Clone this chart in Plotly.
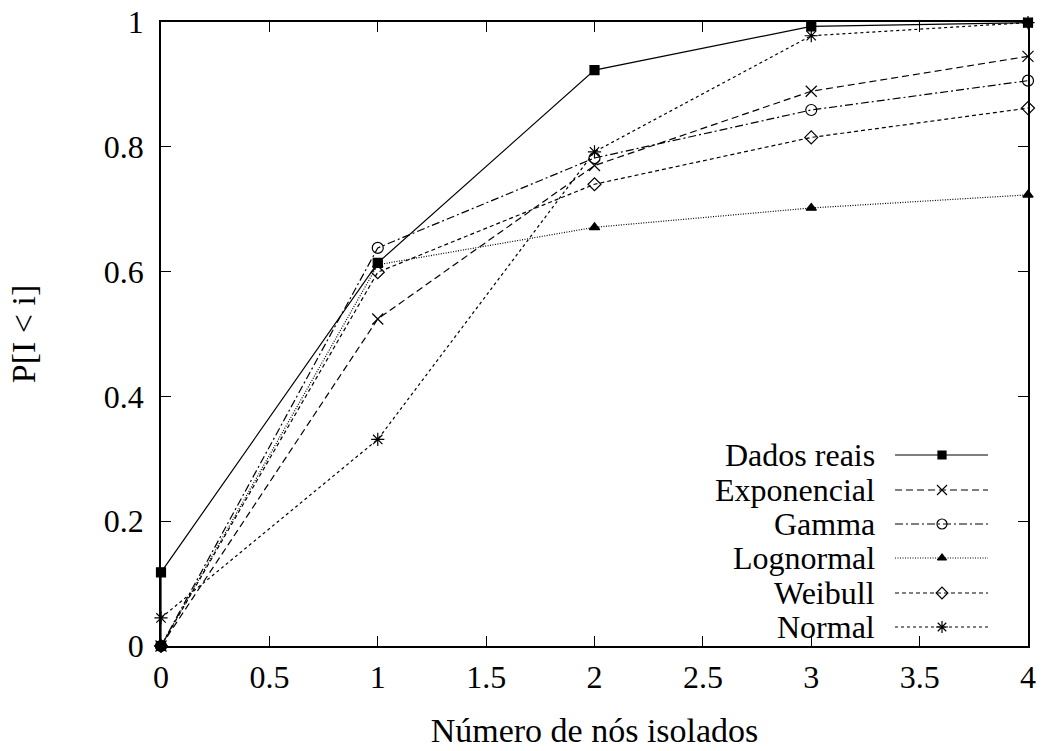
import plotly.graph_objects as go

x_vals = [0, 1, 2, 3, 4]
dados_x = [0, 0, 1, 2, 3, 4]
dados_y = [0.0, 0.118, 0.614, 0.923, 0.993, 0.999]
exponencial = [0.0, 0.524, 0.770, 0.889, 0.945]
gamma = [0.0, 0.638, 0.782, 0.859, 0.906]
lognormal = [0.0, 0.611, 0.671, 0.702, 0.723]
weibull = [0.0, 0.599, 0.740, 0.815, 0.862]
normal = [0.045, 0.331, 0.792, 0.978, 0.999]

names = ["Dados reais", "Exponencial", "Gamma", "Lognormal", "Weibull", "Normal"]

FONT = "Liberation Serif, Times New Roman, serif"

styles = [
    dict(dash="solid", symbol="square", size=9),
    dict(dash="7px,4px", symbol="x-thin-open", size=11),
    dict(dash="8px,3px,2px,3px", symbol="circle-open", size=11),
    dict(dash="1px,1.5px", symbol="triangle-up", size=9),
    dict(dash="4px,3px", symbol="diamond-open", size=10),
    dict(dash="3px,3px", symbol="asterisk-open", size=11),
]

series = [
    (dados_x, dados_y),
    (x_vals, exponencial),
    (x_vals, gamma),
    (x_vals, lognormal),
    (x_vals, weibull),
    (x_vals, normal),
]

fig = go.Figure()
order = [1, 2, 3, 4, 5, 0]  # draw real data last so its squares sit on top
for i in order:
    (xs, ys), name, st = series[i], names[i], styles[i]
    fig.add_trace(go.Scatter(
        x=xs, y=ys, mode="lines+markers", name=name, showlegend=False,
        line=dict(color="black", width=1.2, dash=st["dash"]),
        marker=dict(symbol=st["symbol"], size=st["size"], color="black",
                    line=dict(color="black", width=1.2)),
        cliponaxis=False,
    ))

# custom legend (text on left, sample on right), drawn on an overlay axis in page pixels
W, H = 1047, 751
L, R, T, B = 161, 19, 22, 105
leg_y = [455, 490, 524, 558, 593, 627]
for name, st, py in zip(names, styles, leg_y):
    yy = H - py
    fig.add_trace(go.Scatter(
        x=[895, 942, 988], y=[yy, yy, yy], xaxis="x2", yaxis="y2",
        mode="lines", showlegend=False, hoverinfo="skip",
        line=dict(color="black", width=1.2, dash=st["dash"]),
    ))
    fig.add_trace(go.Scatter(
        x=[942], y=[yy], xaxis="x2", yaxis="y2",
        mode="markers", showlegend=False, hoverinfo="skip",
        marker=dict(symbol=st["symbol"], size=st["size"] - 1, color="black",
                    line=dict(color="black", width=1.2)),
    ))
    fig.add_annotation(
        x=877, y=yy, xref="x2", yref="y2", text=name, showarrow=False,
        xanchor="right", yanchor="middle",
        font=dict(family=FONT, size=32, color="black"),
    )

axis_common = dict(
    showgrid=False, zeroline=False, showline=True, linecolor="black", linewidth=1.5,
    mirror="allticks", ticks="inside", ticklen=10, tickwidth=1.2, tickcolor="black",
    tickfont=dict(family=FONT, size=32, color="black"),
    automargin=False,
)

fig.update_layout(
    width=W, height=H,
    margin=dict(l=L, r=R, t=T, b=B),
    paper_bgcolor="white", plot_bgcolor="white",
    xaxis=dict(range=[0, 4], tickvals=[0, 0.5, 1, 1.5, 2, 2.5, 3, 3.5, 4],
               ticktext=["0", "0.5", "1", "1.5", "2", "2.5", "3", "3.5", "4"],
               ticklabelstandoff=2,
               title=dict(text="Número de nós isolados", font=dict(family=FONT, size=34, color="black"),
                          standoff=24),
               **axis_common),
    yaxis=dict(range=[0, 1], tickvals=[0, 0.2, 0.4, 0.6, 0.8, 1],
               ticktext=["0", "0.2", "0.4", "0.6", "0.8", "1"],
               ticklabelstandoff=9,
               title=dict(text="P[I < i]", font=dict(family=FONT, size=34, color="black"),
                          standoff=58),
               **axis_common),
    xaxis2=dict(overlaying="x", range=[L, W - R], visible=False),
    yaxis2=dict(overlaying="y", range=[B, H - T], visible=False),
)

fig.write_html("out.html")
